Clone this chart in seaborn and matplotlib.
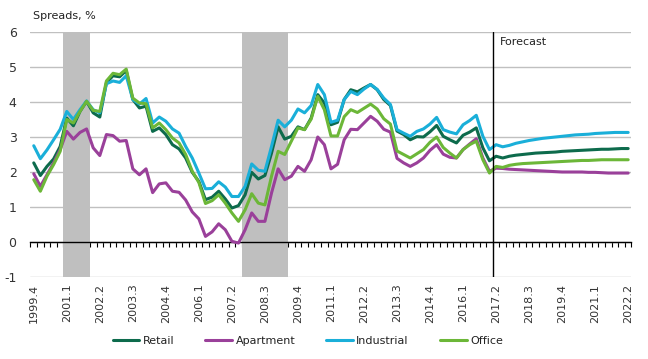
import matplotlib
matplotlib.use('Agg')
import matplotlib.pyplot as plt
import pandas as pd
import seaborn as sns
import numpy as np

# Quarterly labels 1999.4 .. 2022.2
quarters = [f'{1999 + (q + 3) // 4}.{(q + 3) % 4 + 1}' for q in range(91)]

retail = [2.26, 1.90, 2.16, 2.37, 2.73, 3.54, 3.32, 3.73, 4.02, 3.69,
          3.57, 4.55, 4.75, 4.72, 4.90, 4.07, 3.83, 3.88, 3.16, 3.26,
          3.07, 2.78, 2.66, 2.40, 1.99, 1.73, 1.21, 1.28, 1.45, 1.23,
          0.97, 1.04, 1.35, 1.99, 1.80, 1.90, 2.54, 3.29, 2.94, 3.02,
          3.29, 3.21, 3.54, 4.21, 3.97, 3.35, 3.42, 4.07, 4.35, 4.29,
          4.40, 4.50, 4.35, 4.07, 3.90, 3.17, 3.07, 2.92, 3.01, 3.00,
          3.15, 3.33, 3.02, 2.92, 2.83, 3.05, 3.14, 3.26, 2.69, 2.32,
          2.45, 2.40, 2.45, 2.48, 2.50, 2.52, 2.54, 2.55, 2.56, 2.57,
          2.59, 2.60, 2.61, 2.62, 2.63, 2.64, 2.65, 2.65, 2.66, 2.67, 2.67]

apartment = [1.95, 1.59, 1.92, 2.26, 2.64, 3.16, 2.94, 3.13, 3.23, 2.69,
             2.47, 3.07, 3.04, 2.88, 2.90, 2.09, 1.92, 2.09, 1.41, 1.66,
             1.69, 1.45, 1.42, 1.20, 0.86, 0.66, 0.16, 0.29, 0.52, 0.35,
             0.02, -0.03, 0.35, 0.83, 0.59, 0.59, 1.40, 2.09, 1.78, 1.88,
             2.16, 2.02, 2.35, 3.00, 2.78, 2.09, 2.22, 2.92, 3.22, 3.21,
             3.40, 3.59, 3.45, 3.22, 3.14, 2.39, 2.26, 2.16, 2.26, 2.40,
             2.62, 2.78, 2.51, 2.42, 2.40, 2.64, 2.80, 2.95, 2.40, 2.02,
             2.11, 2.10, 2.08, 2.07, 2.06, 2.05, 2.04, 2.03, 2.02, 2.01,
             2.00, 2.00, 2.00, 2.00, 1.99, 1.99, 1.98, 1.97, 1.97, 1.97, 1.97]

industrial = [2.75, 2.38, 2.63, 2.92, 3.22, 3.73, 3.50, 3.78, 4.03, 3.78,
              3.69, 4.52, 4.60, 4.56, 4.75, 4.07, 3.94, 4.10, 3.40, 3.57,
              3.45, 3.23, 3.11, 2.73, 2.40, 1.97, 1.52, 1.53, 1.72, 1.57,
              1.30, 1.30, 1.59, 2.23, 2.05, 2.02, 2.73, 3.48, 3.29, 3.48,
              3.80, 3.69, 3.90, 4.50, 4.21, 3.42, 3.48, 4.07, 4.30, 4.21,
              4.37, 4.50, 4.36, 4.11, 3.93, 3.21, 3.11, 3.02, 3.16, 3.23,
              3.37, 3.56, 3.21, 3.14, 3.09, 3.35, 3.47, 3.62, 3.02, 2.64,
              2.78, 2.72, 2.76, 2.82, 2.86, 2.90, 2.93, 2.96, 2.98, 3.00,
              3.02, 3.04, 3.06, 3.07, 3.08, 3.10, 3.11, 3.12, 3.13, 3.13, 3.13]

office = [1.78, 1.45, 1.88, 2.21, 2.59, 3.50, 3.40, 3.73, 4.02, 3.76,
          3.73, 4.60, 4.82, 4.78, 4.94, 4.11, 3.97, 3.95, 3.26, 3.40,
          3.21, 2.97, 2.83, 2.50, 2.02, 1.70, 1.10, 1.18, 1.35, 1.11,
          0.83, 0.59, 0.92, 1.38, 1.11, 1.06, 1.88, 2.59, 2.50, 2.88,
          3.26, 3.21, 3.51, 4.16, 3.78, 3.03, 3.03, 3.58, 3.78, 3.70,
          3.82, 3.94, 3.80, 3.52, 3.37, 2.60, 2.50, 2.40, 2.52, 2.64,
          2.85, 3.00, 2.70, 2.54, 2.40, 2.64, 2.78, 2.88, 2.35, 1.97,
          2.16, 2.13, 2.19, 2.22, 2.24, 2.25, 2.26, 2.27, 2.28, 2.29,
          2.30, 2.31, 2.32, 2.33, 2.33, 2.34, 2.35, 2.35, 2.35, 2.35, 2.35]

recessions = [('2001.1', '2001.4'), ('2007.4', '2009.2')]
forecast_start = '2017.2'

series = {'Retail': retail, 'Apartment': apartment, 'Industrial': industrial, 'Office': office}
colors = {'Retail': '#0d6b4c', 'Apartment': '#9a409a', 'Industrial': '#1aafd9', 'Office': '#6cb738'}

df = pd.DataFrame({'quarter': quarters, **series})
df['pos'] = np.arange(len(df))
df_long = df.melt(id_vars=['quarter', 'pos'], var_name='sector', value_name='spread')

sns.set_style('white')
plt.rcParams['font.family'] = ['DejaVu Sans']
plt.rcParams['axes.unicode_minus'] = False
plt.rcParams['text.color'] = '#222222'

fig = plt.figure(figsize=(6.48, 3.59), dpi=100)
ax = fig.add_axes([0.047, 0.2284, 0.9275, 0.6825])

sns.lineplot(data=df_long, x='pos', y='spread', hue='sector', palette=colors,
             linewidth=2.2, ax=ax, zorder=3, legend=True)

# recession shading
pos_of = dict(zip(quarters, df['pos']))
for start, end in recessions:
    ax.axvspan(pos_of[start] - 0.5, pos_of[end] + 0.5, color='#bfbfbf', lw=0, zorder=1)

# forecast marker
fpos = pos_of[forecast_start] - 0.5
ax.axvline(fpos, color='black', lw=1, zorder=4)
ax.text(fpos + 1.0, 5.7, 'Forecast', fontsize=8, va='center', ha='left')

ax.set_xlim(-0.5, len(quarters) - 0.5)
ax.set_ylim(-1, 6)
ax.set_yticks(range(-1, 7))
ax.yaxis.grid(True, color='#c0c0c0', lw=1, zorder=0)
ax.xaxis.grid(False)

for s in ['top', 'right', 'left']:
    ax.spines[s].set_visible(False)
ax.spines['bottom'].set_position(('data', 0))
ax.spines['bottom'].set_color('black')
ax.spines['bottom'].set_linewidth(1)
ax.spines['bottom'].set_zorder(2)

ax.set_xticks(df['pos'][::5])
ax.set_xticklabels(df['quarter'][::5], rotation=90, fontsize=8, color='#333333')
ax.set_xticks(np.arange(-0.5, len(quarters)), minor=True)
ax.tick_params(axis='x', which='major', length=0, pad=30)
ax.tick_params(axis='x', which='minor', length=3.5, width=0.8, color='black', direction='out', bottom=True)
ax.tick_params(axis='y', length=0, pad=10, labelsize=9, labelcolor='#333333')
ax.set_xlabel('')
ax.set_ylabel('')

fig.text(0.051, 0.955, 'Spreads, %', fontsize=8, va='center', ha='left')

handles, labels = ax.get_legend_handles_labels()
ax.legend(handles, labels, loc='center', bbox_to_anchor=(0.475, 0.05),
          bbox_transform=fig.transFigure, ncol=4, frameon=False, fontsize=8,
          handlelength=2.4, handletextpad=0.3, columnspacing=2.8)

fig.savefig('out.png', dpi=100)
